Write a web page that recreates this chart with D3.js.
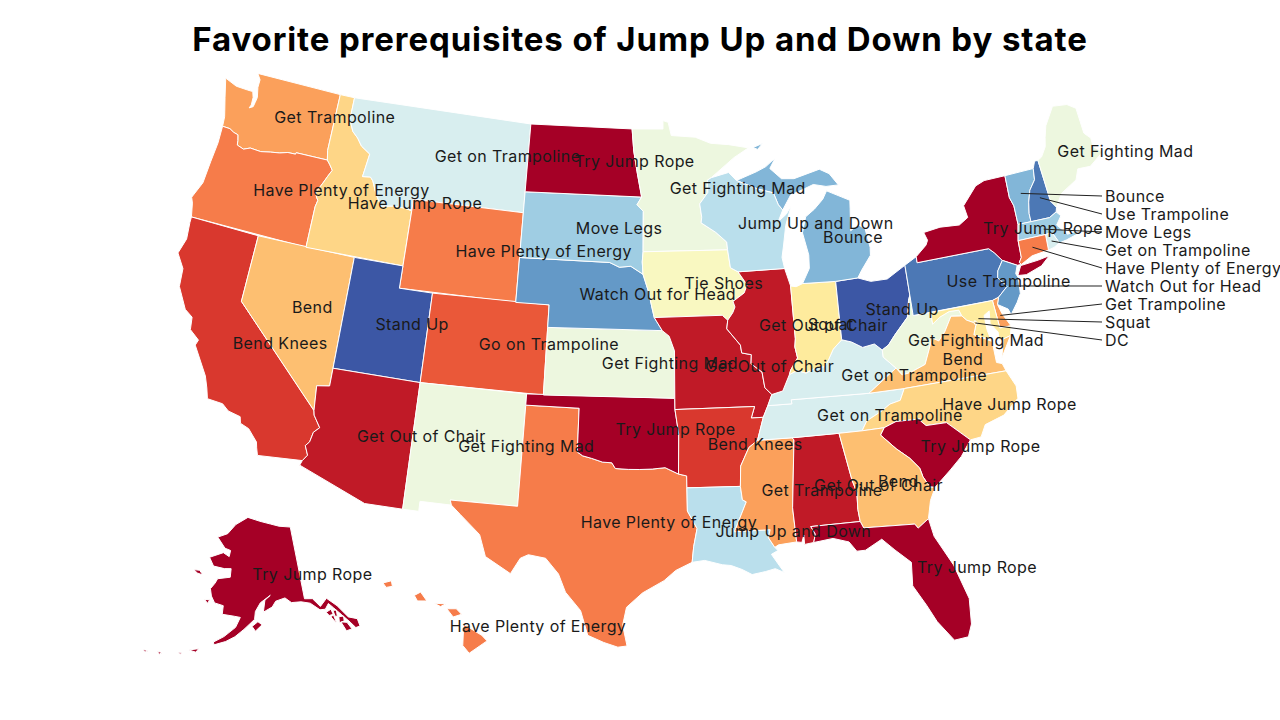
<!DOCTYPE html>
<html>
<head>
<meta charset="utf-8">
<script src="https://cdn.jsdelivr.net/npm/d3@7"></script>
<style>
  html, body { margin: 0; background: #fff; }
  text { font-family: Inter, "Open Sans", sans-serif; }
</style>
</head>
<body>
<svg id="map-svg" width="1280" height="720"></svg>
<script>
// categories in colour order
const categories = ["Try Jump Rope", "Get Out of Chair", "Bend Knees", "Go on Trampoline", "Have Plenty of Energy",
    "Get Trampoline", "Bend", "Have Jump Rope", "Squat", "Tie Shoes", "Get Fighting Mad", "Get on Trampoline",
    "Jump Up and Down", "Move Legs", "Bounce", "Watch Out for Head", "Use Trampoline", "Stand Up"];
const categoryColors = ["#a50026", "#c01a27", "#d9382e", "#ea5839", "#f67c4a", "#fba05b", "#fdbf71", "#fed687", "#feeb9d",
    "#f9f8c1", "#edf7df", "#d8eeef", "#badfec", "#9fcde3", "#82b6d8", "#6499c7", "#4c78b5", "#3c57a5"];

// favorite by state
const favorites = {
    WA: "Get Trampoline", OR: "Have Plenty of Energy", CA: "Bend Knees", NV: "Bend", ID: "Have Jump Rope",
    MT: "Get on Trampoline", WY: "Have Plenty of Energy", UT: "Stand Up", AZ: "Get Out of Chair", CO: "Go on Trampoline",
    NM: "Get Fighting Mad", ND: "Try Jump Rope", SD: "Move Legs", NE: "Watch Out for Head", KS: "Get Fighting Mad",
    OK: "Try Jump Rope", TX: "Have Plenty of Energy", MN: "Get Fighting Mad", IA: "Tie Shoes", MO: "Get Out of Chair",
    AR: "Bend Knees", LA: "Jump Up and Down", WI: "Jump Up and Down", IL: "Get Out of Chair", MI: "Bounce", IN: "Squat",
    OH: "Stand Up", KY: "Get on Trampoline", TN: "Get on Trampoline", MS: "Get Trampoline", AL: "Get Out of Chair",
    GA: "Bend", FL: "Try Jump Rope", SC: "Try Jump Rope", NC: "Have Jump Rope", VA: "Bend", WV: "Get Fighting Mad",
    PA: "Use Trampoline", NY: "Try Jump Rope", ME: "Get Fighting Mad", VT: "Bounce", NH: "Use Trampoline", MA: "Move Legs",
    RI: "Get on Trampoline", CT: "Have Plenty of Energy", NJ: "Watch Out for Head", DE: "Get Trampoline", MD: "Squat",
    DC: "Have Jump Rope", AK: "Try Jump Rope", HI: "Have Plenty of Energy"
};

// small states that get a leader line out to the right, top to bottom
const calloutStates = ["VT", "NH", "MA", "RI", "CT", "NJ", "DE", "MD", "DC"];
const calloutLabels = ["Bounce", "Use Trampoline", "Move Legs", "Get on Trampoline", "Have Plenty of Energy",
    "Watch Out for Head", "Get Trampoline", "Squat", "DC"];

// shared borders, lon/lat
const columbia = [[-124.0,46.27],[-123.5,46.26],[-123.2,46.15],[-122.9,46.1],[-122.8,45.85],[-122.75,45.65],[-122.3,45.55],[-121.9,45.68],[-121.2,45.65],[-120.6,45.74],[-120.0,45.81],[-119.5,45.92],[-119.0,45.93],[-118.98,46.0],[-116.92,46.0]];
const snake = [[-116.92,46.0],[-116.7,45.82],[-116.47,45.6],[-116.67,45.3],[-116.85,45.0],[-117.2,44.45],[-117.05,44.25],[-116.95,44.15],[-117.03,43.85],[-117.03,42.0]];
const bitterroot = [[-116.05,49],[-116.05,48.0],[-115.7,47.5],[-115.3,47.25],[-114.95,46.93],[-114.32,46.65],[-114.5,45.6],[-114.0,45.65],[-113.8,45.5],[-113.45,44.95],[-113.0,44.45],[-112.3,44.55],[-111.5,44.55],[-111.05,44.48]];
const coloradoRiver = [[-114.63,35.0],[-114.57,34.8],[-114.14,34.3],[-114.43,34.05],[-114.53,33.6],[-114.72,33.4],[-114.5,33.0],[-114.72,32.72]];
const redRiver = [[-100,34.56],[-99.7,34.4],[-99.2,34.3],[-98.6,34.15],[-98.1,34.13],[-97.9,33.88],[-97.2,33.85],[-96.6,33.85],[-95.9,33.87],[-95.2,33.93],[-94.48,33.64]];
const missouriRiver = [[-96.45,42.5],[-96.1,41.7],[-95.9,41.0],[-95.77,40.58],[-95.3,40]];
const missUpper = [[-92.3,46.65],[-92.3,46.1],[-92.85,45.6],[-92.75,45.0],[-92.8,44.75],[-91.9,44.3],[-91.25,43.85],[-91.22,43.5],[-91.1,42.7],[-90.65,42.5]];
const missIowaIllinois = [[-90.65,42.5],[-90.15,41.9],[-90.35,41.55],[-91.05,41.2],[-90.95,40.95],[-91.1,40.7],[-91.42,40.38]];
const missMoIl = [[-91.42,40.38],[-91.5,40.0],[-90.75,39.25],[-90.7,38.9],[-90.15,38.8],[-90.2,38.4],[-89.6,38.0],[-89.5,37.3],[-89.13,36.98]];
const missMoKy = [[-89.13,36.98],[-89.4,36.5]];
const missTn = [[-89.4,36.5],[-89.7,36.0],[-90.1,35.0]];
const missArMs = [[-90.1,35.0],[-90.6,34.7],[-91.1,33.9],[-91.17,33.0]];
const missLaMs = [[-91.17,33.0],[-91.1,32.4],[-90.9,32.3],[-91.6,31.0],[-89.73,31.0],[-89.85,30.65],[-89.55,30.2]];
const ohioKyIl = [[-89.13,36.98],[-88.5,37.1],[-88.05,37.8]];
const ohioKyIn = [[-88.05,37.8],[-87.6,37.95],[-87.1,37.8],[-86.5,38.0],[-86.0,38.0],[-85.75,38.27],[-85.4,38.73],[-84.85,39.1]];
const ohioKyOh = [[-84.85,39.1],[-84.3,38.95],[-83.7,38.65],[-83.0,38.73],[-82.6,38.42]];
const ohioWvOh = [[-82.6,38.42],[-82.2,38.6],[-81.75,39.0],[-80.85,39.7],[-80.65,40.4],[-80.52,40.64]];
const wabash = [[-87.53,39.35],[-87.6,39.0],[-87.5,38.5],[-87.95,38.0],[-88.05,37.8]];
const kyWv = [[-82.6,38.42],[-82.6,38.1],[-81.97,37.54]];
const appalachianTnNc = [[-81.68,36.59],[-82.0,36.1],[-82.6,36.0],[-83.1,35.75],[-84.0,35.4],[-84.32,34.99]];
const vaWv = [[-77.72,39.32],[-78.35,39.4],[-78.87,38.77],[-79.3,38.42],[-79.65,38.6],[-80.3,37.5],[-81.2,37.25],[-81.68,37.2],[-81.97,37.54]];
const potomacUpper = [[-77.72,39.32],[-77.83,39.6],[-78.4,39.62],[-79.0,39.45],[-79.48,39.2],[-79.48,39.72]];
const potomacLower = [[-77.12,38.93],[-77.5,39.1],[-77.72,39.32]];
const ncSc = [[-83.1,35.0],[-82.4,35.2],[-81.05,35.15],[-81.05,35.05],[-80.8,34.82],[-79.67,34.8],[-78.55,33.86]];
const savannah = [[-83.1,35.0],[-83.35,34.7],[-82.6,34.0],[-81.95,33.5],[-81.5,33.0],[-81.4,32.6],[-81.12,32.1],[-80.85,32.05]];
const chattahoochee = [[-85.18,32.87],[-85.0,32.3],[-85.05,31.55],[-85.0,31.0]];
const gaFl = [[-85.0,31.0],[-84.86,30.7],[-82.2,30.57],[-82.05,30.37],[-81.45,30.72]];
const vtNh = [[-71.5,45],[-71.6,44.5],[-72.05,44.1],[-72.3,43.6],[-72.45,43.1],[-72.46,42.73]];
const vtNy = [[-73.35,45],[-73.4,44.0],[-73.25,43.6],[-73.27,42.75]];
const nyPa = [[-79.76,42],[-75.35,42],[-75.05,41.75],[-74.7,41.36]];
const delaware = [[-74.7,41.36],[-75.1,40.95],[-75.2,40.65],[-74.75,40.2],[-75.4,39.8]];
const wiMi = [[-90.42,46.57],[-89.1,46.13],[-88.1,45.9],[-87.85,45.35],[-87.6,45.1]];

const rev = a => a.slice().reverse();

// state outlines, lon/lat
const shapes = {
    WA: [[[-124.73,48.38],[-123.9,48.17],[-123.1,48.15],[-122.75,48.15],[-122.62,47.9],[-122.6,47.55],[-122.68,47.4],[-122.45,47.5],[-122.4,47.7],[-122.35,47.95],[-122.5,48.4],[-122.5,48.75],[-122.76,49],[-117.03,49],[-117.04,46.42],...rev(columbia),[-124.05,46.7],[-124.15,46.95],[-124.4,47.55]]],
    OR: [[...columbia,...snake.slice(1),[-124.21,42],[-124.4,42.6],[-124.55,42.84],[-124.15,43.6],[-124.07,44.6],[-123.97,45.5]]],
    CA: [[[-124.21,42],[-120,42],[-120,39],...coloradoRiver,[-117.12,32.53],[-117.25,32.85],[-117.33,33.1],[-117.9,33.6],[-118.4,33.75],[-118.5,34.03],[-119.2,34.15],[-119.6,34.4],[-120.47,34.45],[-120.65,34.9],[-120.9,35.4],[-121.9,36.6],[-121.8,36.85],[-122.4,37.2],[-122.5,37.75],[-123,38],[-123.7,38.9],[-123.8,39.7],[-124.35,40.3],[-124.1,41],[-124.2,41.75]]],
    NV: [[[-120,42],[-114.04,42],[-114.04,36.2],[-114.75,36.1],[-114.63,35],[-120,39]]],
    ID: [[[-117.03,49],...bitterroot,[-111.05,42],[-117.03,42],...rev(snake).slice(1),[-117.04,46.42]]],
    MT: [[[-116.05,49],[-104.05,49],[-104.05,45],[-111.05,45],...rev(bitterroot).slice(0,-1)]],
    WY: [[[-111.05,45],[-104.05,45],[-104.05,41],[-111.05,41]]],
    UT: [[[-114.04,42],[-111.05,42],[-111.05,41],[-109.05,41],[-109.05,37],[-114.04,37]]],
    CO: [[[-109.05,41],[-102.05,41],[-102.05,37],[-109.05,37]]],
    AZ: [[[-114.04,37],[-109.05,37],[-109.05,31.33],[-111.07,31.33],[-114.81,32.5],...rev(coloradoRiver),[-114.75,36.1],[-114.04,36.2]]],
    NM: [[[-109.05,37],[-103,37],[-103.04,32],[-106.62,32],[-106.53,31.78],[-108.2,31.78],[-108.2,31.33],[-109.05,31.33]]],
    TX: [[[-103,36.5],[-100,36.5],...redRiver,[-94.04,33.55],[-94.04,33.02],[-94.04,31.99],[-93.55,31.2],[-93.75,30.4],[-93.85,29.7],[-94.7,29.35],[-95.3,28.9],[-96.4,28.35],[-97.2,27.7],[-97.38,26.9],[-97.15,25.96],[-97.6,25.9],[-98.3,26.1],[-99.1,26.4],[-99.5,27.5],[-100.3,28.3],[-100.7,29.1],[-101.4,29.77],[-102.3,29.88],[-102.7,29.7],[-103.15,28.98],[-104.5,29.65],[-104.9,30.6],[-106,31.4],[-106.53,31.78],[-106.62,32],[-103.04,32]]],
    OK: [[[-103,37],[-94.62,37],[-94.62,36.5],[-94.43,35.4],...rev(redRiver),[-100,36.5],[-103,36.5]]],
    KS: [[[-102.05,40],[-95.3,40],[-94.9,39.75],[-94.6,39.1],[-94.62,37],[-102.05,37]]],
    NE: [[[-104.05,43],[-98.5,43],[-97.9,42.8],[-97.2,42.85],...missouriRiver,[-102.05,40],[-102.05,41],[-104.05,41]]],
    SD: [[[-104.05,45.94],[-96.56,45.94],[-96.85,45.6],[-96.45,45.3],[-96.45,43.5],[-96.5,43.05],[-96.45,42.5],[-97.2,42.85],[-97.9,42.8],[-98.5,43],[-104.05,43]]],
    ND: [[[-104.05,49],[-97.23,49],[-97.1,48],[-96.85,47],[-96.56,45.94],[-104.05,45.94]]],
    MN: [[[-97.23,49],[-95.15,49],[-95.15,49.38],[-94.8,49.3],[-94.6,48.7],[-93,48.6],[-92,48.3],[-90.8,48.2],[-89.5,48],[-90.5,47.6],[-92.05,46.75],...missUpper.slice(0,8),[-96.45,43.5],[-96.45,45.3],[-96.85,45.6],[-96.56,45.94],[-96.85,47],[-97.1,48]]],
    IA: [[[-96.45,43.5],[-91.22,43.5],[-91.1,42.7],...missIowaIllinois,[-91.73,40.61],[-95.77,40.58],[-95.9,41],[-96.1,41.7],[-96.45,42.5],[-96.5,43.05]]],
    MO: [[[-95.77,40.58],[-91.73,40.61],...missMoIl,...missMoKy.slice(1),[-89.7,36],[-90.37,36],[-90.15,36.5],[-94.62,36.5],[-94.62,37],[-94.6,39.1],[-94.9,39.75],[-95.3,40]]],
    AR: [[[-94.62,36.5],[-90.15,36.5],[-90.37,36],[-89.7,36],...missArMs,[-94.04,33.02],[-94.04,33.55],[-94.48,33.64],[-94.43,35.4]]],
    LA: [[[-94.04,33.02],...missLaMs,[-89.4,30.05],[-89.75,29.9],[-89.4,29.4],[-89.15,29.05],[-89.6,29.25],[-90.1,29.15],[-90.8,29.05],[-91.3,29.3],[-91.85,29.5],[-92.3,29.55],[-93.2,29.77],[-93.85,29.7],[-93.75,30.4],[-93.55,31.2],[-94.04,31.99]]],
    MS: [[[-90.1,35],[-88.2,35],[-88.1,34.9],[-88.47,31.9],[-88.4,30.37],[-89.35,30.3],...rev(missLaMs),...rev(missArMs).slice(1)]],
    AL: [[[-88.2,35],[-85.6,35],...chattahoochee,[-87.6,31],[-87.4,30.65],[-87.52,30.28],[-88,30.23],[-88,30.65],[-88.13,30.33],[-88.4,30.37],[-88.47,31.9],[-88.1,34.9]]],
    TN: [[[-90.1,35],...rev(missTn).slice(1),[-88.05,36.5],[-88.07,36.68],[-83.68,36.6],...appalachianTnNc,[-85.6,35],[-88.2,35]]],
    KY: [[[-89.4,36.5],[-89.13,36.98],...ohioKyIl.slice(1),...ohioKyIn.slice(1),...ohioKyOh.slice(1),...kyWv.slice(1),[-83.68,36.6],[-88.07,36.68],[-88.05,36.5]]],
    IL: [[[-90.65,42.5],[-87.8,42.5],[-87.53,41.7],[-87.53,39.35],...wabash.slice(1),...rev(ohioKyIl).slice(1),...rev(missMoIl).slice(1),...rev(missIowaIllinois).slice(1)]],
    IN: [[[-87.53,41.7],[-87.2,41.65],[-86.8,41.76],[-84.8,41.7],[-84.85,39.1],...rev(ohioKyIn).slice(1),...rev(wabash).slice(1)]],
    OH: [[[-84.8,41.7],[-83.45,41.73],[-82.7,41.5],[-81.7,41.5],[-80.52,41.98],...rev(ohioWvOh),...rev(ohioKyOh).slice(1),[-84.85,39.1]]],
    WV: [[[-80.52,40.64],[-80.52,39.72],[-79.48,39.72],...rev(potomacUpper).slice(1),...vaWv.slice(1),...rev(kyWv).slice(1),...ohioWvOh.slice(1,-1)]],
    PA: [[[-80.52,41.98],[-79.76,42.27],...nyPa,...delaware,[-75.79,39.72],[-80.52,39.72],[-80.52,40.64]]],
    NY: [[[-79.76,42.27],[-79.05,42.7],[-78.9,42.9],[-79.05,43.27],[-78,43.37],[-76.8,43.3],[-76.2,43.55],[-76.3,44.1],[-75.3,44.85],[-74.7,45],...vtNy,[-73.5,42.05],[-73.55,41.3],[-73.73,41.1],[-73.65,40.99],[-73.9,41],[-74.7,41.36],[-75.05,41.75],[-75.35,42],[-79.76,42]],
         [[-74.0,40.55],[-73.5,40.5],[-72.5,40.72],[-71.9,41.07],[-72.6,41.0],[-73.7,40.95]]],
    VT: [[...vtNy.slice(0,1),[-71.5,45],...vtNh.slice(1),...rev(vtNy).slice(0,-1)]],
    NH: [[[-71.5,45],[-71.3,45.3],[-71.08,45.3],[-70.98,43.4],[-70.72,43.07],[-70.82,42.87],[-71.3,42.7],...rev(vtNh)]],
    ME: [[[-71.08,45.3],[-70.8,45.4],[-70.4,45.8],[-70.25,46.2],[-70,46.7],[-69.23,47.46],[-69,47.43],[-68.3,47.35],[-67.8,47.07],[-67.78,45.9],[-67.45,45.6],[-67.47,45.2],[-67,44.85],[-68,44.4],[-68.8,44.45],[-69.1,44],[-70.2,43.6],[-70.72,43.07],[-70.98,43.4]]],
    MA: [[[-73.27,42.75],[-71.3,42.7],[-70.82,42.87],[-70.6,42.65],[-71,42.3],[-70.65,41.95],[-70.5,41.78],[-70.05,41.8],[-70.2,42.07],[-69.95,41.67],[-70.65,41.55],[-71.13,41.5],[-71.2,41.67],[-71.38,42.02],[-71.8,42.02],[-73.5,42.05]]],
    RI: [[[-71.8,42.02],[-71.38,42.02],[-71.2,41.67],[-71.13,41.5],[-71.5,41.37],[-71.86,41.32]]],
    CT: [[[-73.5,42.05],[-71.8,42.02],[-71.86,41.32],[-72.9,41.25],[-73.65,40.99],[-73.73,41.1],[-73.55,41.3]]],
    NJ: [[...delaware,[-75.55,39.5],[-75,39.2],[-74.9,38.93],[-74.4,39.4],[-74.1,39.75],[-74,40.45],[-74.1,40.65],[-73.9,41]]],
    DE: [[[-75.79,39.72],[-75.4,39.8],[-75.55,39.5],[-75.4,39.05],[-75.05,38.45],[-75.7,38.46]]],
    MD: [[[-79.48,39.72],[-75.79,39.72],[-75.7,38.46],[-75.05,38.45],[-75.2,38.03],[-75.65,37.95],[-75.9,37.95],[-75.85,38.3],[-76.2,38.75],[-76.1,39.3],[-76.45,39.15],[-76.45,38.5],[-76.35,38.05],[-76.9,38.25],[-77.25,38.4],[-77.04,38.79],[-76.91,38.89],[-77.04,39],...potomacLower,...potomacUpper.slice(1,-1)]],
    DC: [[[-77.12,38.93],[-77.04,39],[-76.91,38.89],[-77.04,38.79]]],
    VA: [[...rev(potomacLower),[-77.04,38.79],[-77.25,38.4],[-76.3,37.95],[-76.3,37],[-76,36.9],[-75.87,36.55],[-81.68,36.59],[-83.68,36.6],...rev(vaWv)],
         [[-75.65,37.95],[-75.2,38.03],[-75.95,37.15]]],
    NC: [[[-75.87,36.55],[-81.68,36.59],...appalachianTnNc.slice(1),...ncSc,[-77.95,33.9],[-77.6,34.4],[-76.5,34.65],[-75.55,35.25],[-75.5,35.8]]],
    SC: [[...ncSc,[-79.2,33.2],[-79.9,32.7],...rev(savannah)]],
    GA: [[[-85.6,35],[-84.32,34.99],...savannah,[-81.2,31.5],...rev(gaFl),...rev(chattahoochee).slice(1)]],
    FL: [[[-87.6,31],...gaFl,[-81.3,29.9],[-80.55,28.5],[-80.05,26.9],[-80.15,25.75],[-80.4,25.2],[-81.1,25.15],[-81.8,26.1],[-82.2,26.9],[-82.75,27.85],[-82.65,28.9],[-83.4,29.55],[-84,30.1],[-84.9,29.7],[-85.35,29.7],[-85.7,30.15],[-86.5,30.38],[-87.52,30.28],[-87.4,30.65]]],
    MI: [[[-86.8,41.76],[-84.8,41.7],[-83.45,41.73],[-83.15,42.05],[-82.5,42.65],[-82.45,43],[-82.6,43.85],[-83,44.07],[-83.5,43.85],[-83.35,44.85],[-83.3,45.2],[-84.7,45.75],[-85,45.4],[-85.6,45],[-86.2,44.7],[-86.5,44],[-86.25,43],[-86.3,42.4]],
         [...wiMi,[-87,45.75],[-86.5,45.85],[-85.5,46.1],[-84.7,45.95],[-83.9,45.95],[-84.4,46.5],[-85,46.75],[-86.7,46.45],[-87.5,46.5],[-88.2,47],[-87.8,47.45],[-88.45,47.1],[-89.1,46.9]],
         [[-89.2,48],[-88.55,48.15],[-88.9,47.9]]],
    WI: [[[-92.05,46.75],[-90.9,46.95],...wiMi,[-87.95,44.6],[-87.4,44.9],[-87.05,45.25],[-87.5,44.4],[-87.75,43.5],[-87.9,43],[-87.8,42.5],...rev(missUpper)]],
    AK: [[[-141,69.65],[-141,60.3],[-139,60.1],[-137.5,58.9],[-135.5,59.7],[-133.5,58.4],[-131.8,56.6],[-130,56],[-130,55],[-131,55],[-131.8,55.9],[-133.2,57.2],[-134.5,58.3],[-135.4,59],[-136.5,58.4],[-137.8,58.5],[-139.8,59.6],[-142,60],[-144.5,60.1],[-146,60.8],[-148.5,60.5],[-149.5,59.8],[-151.8,59.2],[-151.3,60.7],[-149.8,61.3],[-152.5,60.4],[-153.8,59.3],[-154,58.3],[-156.5,57],[-158.5,56],[-160.5,55.3],[-163,54.7],[-163.2,55.05],[-161,55.9],[-158.5,57.2],[-157.5,58.5],[-159,58.6],[-162,58.7],[-162,59.8],[-164.3,60],[-165.4,60.8],[-166,61.7],[-165,62.5],[-164.5,63.1],[-161,63.5],[-161,64.6],[-163,64.5],[-166.3,64.6],[-168,65.6],[-164,66.5],[-162,66.1],[-161.8,66.9],[-163.7,67.1],[-166.7,68.35],[-163.5,69],[-161,70.3],[-156.6,71.35],[-152,70.85],[-148,70.4],[-145,70]],
         [[-154.6,57.4],[-153.2,58],[-152.2,57.6],[-153.8,56.8]],
         [[-136.5,58],[-135.2,58.2],[-135,57.5],[-136,57.5]],
         [[-134.8,58],[-134,57.9],[-134.2,57.1],[-134.7,57.2]],
         [[-135.7,57.3],[-135,57.4],[-134.8,56.3],[-135.2,56.7]],
         [[-133.9,57],[-132.8,56.9],[-133,56.3],[-134.2,56.2]],
         [[-133.8,56.3],[-132.5,56],[-131.9,55],[-133.2,55]],
         [[-167,60.2],[-165.7,60.3],[-166,59.8]],
         [[-171.7,63.6],[-170,63.7],[-168.8,63.2],[-170.5,63.3]],
         [[-168.2,53.5],[-166.2,53.9],[-166.6,53.4]],
         [[-170.3,52.9],[-169.5,53],[-169.8,52.7]],
         [[-174.5,52.3],[-173.5,52.3],[-174,52.0]],
         [[-177.5,51.95],[-176.4,51.95],[-176.9,51.7]]],
    HI: [[[-155.9,20.25],[-155.05,19.75],[-154.8,19.5],[-155.65,18.95],[-155.95,19.3]],
         [[-156.7,20.95],[-156.25,20.95],[-156,20.7],[-156.4,20.58]],
         [[-157.3,21.2],[-156.75,21.17],[-157,21.05]],
         [[-158.25,21.55],[-157.95,21.7],[-157.65,21.3],[-158.1,21.3]],
         [[-159.75,22.1],[-159.35,22.2],[-159.3,21.95],[-159.6,21.9]]]
};

const svg = d3.select("#map-svg");
const width = 1280, height = 720;

const color = d3.scaleOrdinal().domain(categories).range(categoryColors);

// build GeoJSON, d3.geo wants small polygons wound the right way
const features = Object.keys(shapes).map(id => {
    const coordinates = shapes[id].map(ring => {
        const closed = [...ring, ring[0]];
        const area = d3.geoArea({ type: "Polygon", coordinates: [closed] });
        return [area > 2 * Math.PI ? closed.reverse() : closed];
    });
    return { type: "Feature", id, geometry: { type: "MultiPolygon", coordinates } };
});

const projection = d3.geoAlbersUsa().scale(1282).translate([640, 360]);
const path = d3.geoPath().projection(projection);

// title
svg.append("text")
    .attr("x", width / 2)
    .attr("y", 51)
    .attr("text-anchor", "middle")
    .attr("font-size", 33)
    .attr("font-weight", 700)
    .attr("letter-spacing", 0.9)
    .attr("fill", "#000")
    .text("Favorite prerequisites of Jump Up and Down by state");

// draw states
svg.append("g")
    .selectAll("path")
    .data(features)
    .join("path")
    .attr("d", path)
    .attr("fill", d => color(favorites[d.id]))
    .attr("stroke", "#fff")
    .attr("stroke-width", 1);

// the label starts a bit left of the state's centre, my outlines are rough so some need a nudge
const labelDx = -7.5;
const labelNudge = { MI: [9.5, 11], LA: [-4.5, 0], KY: [10.5, 0], FL: [8.5, 0], NY: [8.5, 0], NC: [-3.5, 0] };
const nudge = (d, i) => (labelNudge[d.id] || [0, 0])[i];

const byId = new Map(features.map(d => [d.id, d]));
const labelGroup = svg.append("g")
    .attr("font-size", 16)
    .attr("letter-spacing", 0.4)
    .attr("fill", "#1a1a1a");

labelGroup.selectAll("text.state")
    .data(features.filter(d => !calloutStates.includes(d.id)))
    .join("text")
    .attr("class", "state")
    .attr("x", d => path.centroid(d)[0] + labelDx + nudge(d, 0))
    .attr("y", d => path.centroid(d)[1] + nudge(d, 1))
    .attr("dy", "0.35em")
    .text(d => favorites[d.id]);

// callout states are listed at the right
const calloutY = d3.scalePoint().domain(calloutStates).range([196, 340]);

labelGroup.selectAll("line")
    .data(calloutStates)
    .join("line")
    .attr("x1", d => path.centroid(byId.get(d))[0])
    .attr("y1", d => path.centroid(byId.get(d))[1])
    .attr("x2", 1102)
    .attr("y2", d => calloutY(d))
    .attr("stroke", "#222")
    .attr("stroke-width", 1);

labelGroup.selectAll("text.callout")
    .data(calloutStates)
    .join("text")
    .attr("class", "callout")
    .attr("x", 1105)
    .attr("y", d => calloutY(d))
    .attr("dy", "0.35em")
    .text((d, i) => calloutLabels[i]);
</script>
</body>
</html>
